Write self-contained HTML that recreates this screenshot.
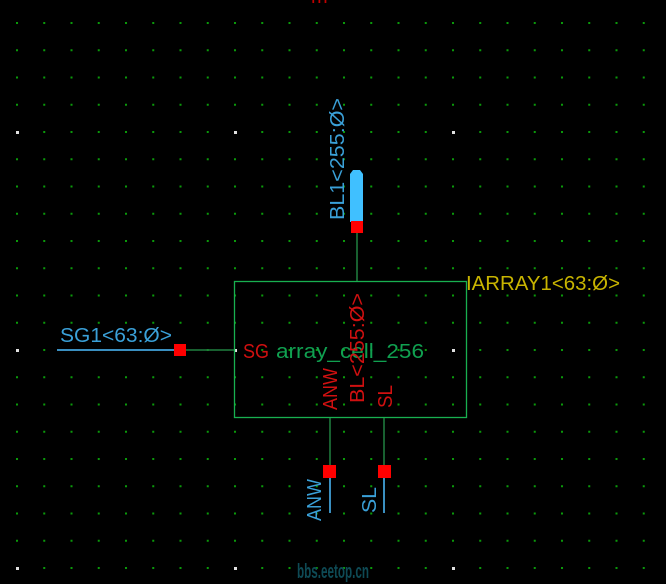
<!DOCTYPE html>
<html><head><meta charset="utf-8"><style>
html,body{margin:0;padding:0;background:#000;}
svg{display:block;}
text{font-family:"Liberation Sans",sans-serif;font-size:20px;}
</style></head><body>
<svg width="666" height="584" viewBox="0 0 666 584" xmlns="http://www.w3.org/2000/svg">
<defs>
<pattern id="g" x="16" y="22" width="27.25" height="27.25" patternUnits="userSpaceOnUse">
<rect x="0" y="0" width="2" height="2" fill="#0a9a0a"/>
</pattern>
<pattern id="w" x="16" y="131" width="218" height="218" patternUnits="userSpaceOnUse">
<rect x="0" y="0" width="3" height="3" fill="#e0e0e0"/>
</pattern>
</defs>
<rect width="666" height="584" fill="#000"/>
<rect width="666" height="584" fill="url(#g)"/>
<rect width="666" height="584" fill="url(#w)"/>
<text x="311" y="3" fill="#c00000" font-size="12">m</text>

<rect x="234.5" y="281.5" width="232" height="136" fill="none" stroke="#18b050" stroke-width="1.3"/>

<line x1="57" y1="350" x2="176" y2="350" stroke="#3a8fc0" stroke-width="2"/>
<line x1="186" y1="350" x2="234" y2="350" stroke="#208040" stroke-width="1.5"/>
<rect x="174" y="344" width="12" height="12" fill="#ff0000"/>
<text x="60" y="342" fill="#3aa0d8" textLength="112" lengthAdjust="spacingAndGlyphs">SG1&lt;63:Ø&gt;</text>

<line x1="357" y1="233" x2="357" y2="281" stroke="#208040" stroke-width="1.5"/>
<path d="M350 222 L350 174 L353 170 L360 170 L363 174 L363 222 Z" fill="#40c0ff"/>
<rect x="351" y="221" width="12" height="12" fill="#ff0000"/>
<text transform="translate(344,220) rotate(-90)" fill="#3aa0d8" textLength="122" lengthAdjust="spacingAndGlyphs">BL1&lt;255:Ø&gt;</text>

<line x1="330" y1="418" x2="330" y2="466" stroke="#208040" stroke-width="1.5"/>
<line x1="330" y1="478" x2="330" y2="513" stroke="#3a8fc0" stroke-width="2"/>
<rect x="323" y="465" width="13" height="13" fill="#ff0000"/>
<text transform="translate(321,521) rotate(-90)" fill="#3aa0d8" textLength="42" lengthAdjust="spacingAndGlyphs">ANW</text>

<line x1="384" y1="418" x2="384" y2="466" stroke="#208040" stroke-width="1.5"/>
<line x1="384" y1="478" x2="384" y2="513" stroke="#3a8fc0" stroke-width="2"/>
<rect x="378" y="465" width="13" height="13" fill="#ff0000"/>
<text transform="translate(376,513) rotate(-90)" fill="#3aa0d8" textLength="26" lengthAdjust="spacingAndGlyphs">SL</text>

<text x="243" y="358" fill="#d01010" textLength="26" lengthAdjust="spacingAndGlyphs">SG</text>
<text x="276" y="358" fill="#10a050" textLength="148" lengthAdjust="spacingAndGlyphs">array_cell_256</text>
<text transform="translate(337,410) rotate(-90)" fill="#d01010" textLength="42" lengthAdjust="spacingAndGlyphs">ANW</text>
<text transform="translate(364,403) rotate(-90)" fill="#d01010" textLength="110" lengthAdjust="spacingAndGlyphs">BL&lt;255:Ø&gt;</text>
<text transform="translate(392,408) rotate(-90)" fill="#d01010" textLength="23" lengthAdjust="spacingAndGlyphs">SL</text>

<text x="466" y="290" fill="#c8b400" textLength="154" lengthAdjust="spacingAndGlyphs">IARRAY1&lt;63:Ø&gt;</text>

<text x="297" y="578" fill="#0e4a55" font-weight="bold" font-size="14" textLength="72" lengthAdjust="spacingAndGlyphs">bbs.eetop.cn</text>
</svg>
</body></html>
